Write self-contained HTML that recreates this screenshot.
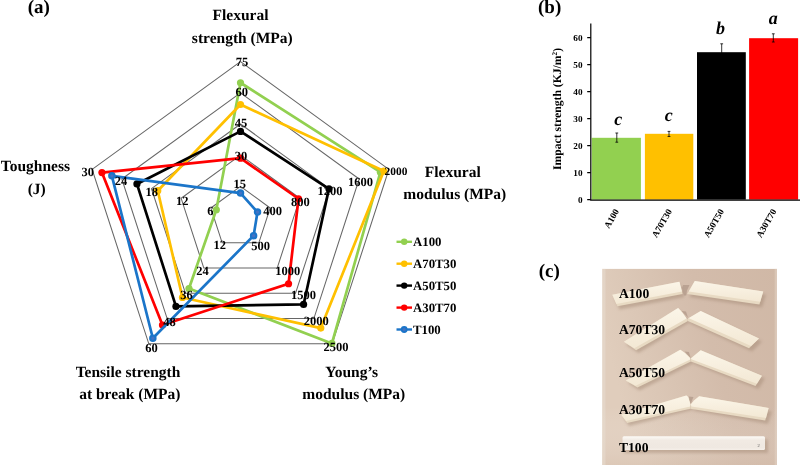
<!DOCTYPE html>
<html><head><meta charset="utf-8">
<style>
html,body{margin:0;padding:0;background:#fff;}
body{width:800px;height:465px;overflow:hidden;font-family:"Liberation Serif",serif;}
svg{display:block;will-change:transform}
text{font-family:"Liberation Serif",serif;font-weight:bold;fill:#000;text-rendering:geometricPrecision}
.tk{font-size:12px}
.ax{font-size:15.5px}
.pl{font-size:19px}
.lg{font-size:12.8px}
.bt{font-size:9.2px}
.ph{font-size:13.6px}
.sig{font-size:18px;font-style:italic}
</style></head><body>
<svg width="800" height="465" viewBox="0 0 800 465">
<defs>
<linearGradient id="bg" x1="1" y1="0" x2="0" y2="0.3">
<stop offset="0" stop-color="#d0b8a6"/><stop offset="0.45" stop-color="#d3bcab"/><stop offset="0.8" stop-color="#dbc7b6"/><stop offset="1" stop-color="#e0cdbc"/>
</linearGradient>
<linearGradient id="bg2" x1="0" y1="0" x2="0" y2="1">
<stop offset="0" stop-color="#ffffff" stop-opacity="0"/><stop offset="0.7" stop-color="#ffffff" stop-opacity="0.0"/><stop offset="1" stop-color="#d6bfae" stop-opacity="0.35"/>
</linearGradient>
<linearGradient id="pc" x1="0" y1="0" x2="0" y2="1">
<stop offset="0" stop-color="#fbf5e8"/><stop offset="1" stop-color="#f3e8d4"/>
</linearGradient>
<linearGradient id="tc" x1="0" y1="0" x2="0" y2="1">
<stop offset="0" stop-color="#fcfaf6"/><stop offset="0.3" stop-color="#f1eae3"/><stop offset="0.8" stop-color="#efe8e1"/><stop offset="1" stop-color="#f5efe9"/>
</linearGradient>
<filter id="bl" x="-10%" y="-10%" width="120%" height="120%"><feGaussianBlur stdDeviation="0.6"/></filter>
<filter id="sh" x="-10%" y="-30%" width="120%" height="160%"><feGaussianBlur stdDeviation="1.6"/></filter>
</defs>
<rect width="800" height="465" fill="#fff"/>
<!-- (a) radar -->
<text x="27.8" y="13.3" class="pl">(a)</text>
<polygon points="240.50,186.40 270.17,207.96 258.84,242.84 222.16,242.84 210.83,207.96" fill="none" stroke="#666" stroke-width="1.05"/>
<polygon points="240.50,155.20 299.85,198.32 277.18,268.08 203.82,268.08 181.15,198.32" fill="none" stroke="#666" stroke-width="1.05"/>
<polygon points="240.50,124.00 329.52,188.68 295.52,293.32 185.48,293.32 151.48,188.68" fill="none" stroke="#666" stroke-width="1.05"/>
<polygon points="240.50,92.80 359.19,179.03 313.86,318.57 167.14,318.57 121.81,179.03" fill="none" stroke="#666" stroke-width="1.05"/>
<polygon points="240.50,61.60 388.86,169.39 332.19,343.81 148.81,343.81 92.14,169.39" fill="none" stroke="#666" stroke-width="1.05"/>
<polygon points="240.50,82.75 380.41,172.14 331.92,343.43 188.97,288.53 216.32,209.74" fill="none" stroke="#92D050" stroke-width="2.7" stroke-linejoin="round"/>
<circle cx="240.50" cy="82.75" r="3.6" fill="#92D050"/>
<circle cx="380.41" cy="172.14" r="3.6" fill="#92D050"/>
<circle cx="331.92" cy="343.43" r="3.6" fill="#92D050"/>
<circle cx="188.97" cy="288.53" r="3.6" fill="#92D050"/>
<circle cx="216.32" cy="209.74" r="3.6" fill="#92D050"/>
<polygon points="240.50,104.50 383.82,171.03 320.79,328.11 182.46,297.49 157.77,190.72" fill="none" stroke="#FFC000" stroke-width="2.7" stroke-linejoin="round"/>
<circle cx="240.50" cy="104.50" r="3.6" fill="#FFC000"/>
<circle cx="383.82" cy="171.03" r="3.6" fill="#FFC000"/>
<circle cx="320.79" cy="328.11" r="3.6" fill="#FFC000"/>
<circle cx="182.46" cy="297.49" r="3.6" fill="#FFC000"/>
<circle cx="157.77" cy="190.72" r="3.6" fill="#FFC000"/>
<polygon points="240.50,131.39 328.93,188.87 303.59,304.43 175.95,306.45 136.94,183.95" fill="none" stroke="#000000" stroke-width="2.7" stroke-linejoin="round"/>
<circle cx="240.50" cy="131.39" r="3.6" fill="#000000"/>
<circle cx="328.93" cy="188.87" r="3.6" fill="#000000"/>
<circle cx="303.59" cy="304.43" r="3.6" fill="#000000"/>
<circle cx="175.95" cy="306.45" r="3.6" fill="#000000"/>
<circle cx="136.94" cy="183.95" r="3.6" fill="#000000"/>
<polygon points="240.50,158.16 298.51,198.75 288.55,283.73 162.47,325.00 101.93,172.57" fill="none" stroke="#FF0000" stroke-width="2.7" stroke-linejoin="round"/>
<circle cx="240.50" cy="158.16" r="3.6" fill="#FF0000"/>
<circle cx="298.51" cy="198.75" r="3.6" fill="#FF0000"/>
<circle cx="288.55" cy="283.73" r="3.6" fill="#FF0000"/>
<circle cx="162.47" cy="325.00" r="3.6" fill="#FF0000"/>
<circle cx="101.93" cy="172.57" r="3.6" fill="#FF0000"/>
<polygon points="240.50,193.11 257.50,212.08 253.61,235.65 152.84,338.25 111.87,175.80" fill="none" stroke="#1B75C9" stroke-width="2.7" stroke-linejoin="round"/>
<circle cx="240.50" cy="193.11" r="2.7" fill="#4472C4" stroke="#1B75C9" stroke-width="2.1"/>
<circle cx="257.50" cy="212.08" r="2.7" fill="#4472C4" stroke="#1B75C9" stroke-width="2.1"/>
<circle cx="253.61" cy="235.65" r="2.7" fill="#4472C4" stroke="#1B75C9" stroke-width="2.1"/>
<circle cx="152.84" cy="338.25" r="2.7" fill="#4472C4" stroke="#1B75C9" stroke-width="2.1"/>
<circle cx="111.87" cy="175.80" r="2.7" fill="#4472C4" stroke="#1B75C9" stroke-width="2.1"/>
<text x="242.00" y="66.30" text-anchor="middle" style="font-size:12.5px">75</text>
<text x="241.85" y="95.60" text-anchor="middle" style="font-size:12.5px">60</text>
<text x="241.10" y="126.90" text-anchor="middle" style="font-size:12.5px">45</text>
<text x="241.10" y="160.30" text-anchor="middle" style="font-size:12.5px">30</text>
<text x="239.68" y="187.80" text-anchor="middle" style="font-size:12.5px">15</text>
<text x="272.70" y="215.30" text-anchor="middle" style="font-size:12.5px">400</text>
<text x="300.38" y="205.95" text-anchor="middle" style="font-size:12.5px">800</text>
<text x="330.00" y="194.70" text-anchor="middle" style="font-size:12.5px">1200</text>
<text x="360.43" y="185.95" text-anchor="middle" style="font-size:12.5px">1600</text>
<text x="396.00" y="174.70" text-anchor="middle" style="font-size:11.4px">2000</text>
<text x="260.50" y="249.70" text-anchor="middle" style="font-size:12.5px">500</text>
<text x="287.68" y="275.30" text-anchor="middle" style="font-size:12.5px">1000</text>
<text x="303.43" y="299.10" text-anchor="middle" style="font-size:12.5px">1500</text>
<text x="316.25" y="324.70" text-anchor="middle" style="font-size:12.5px">2000</text>
<text x="335.93" y="351.30" text-anchor="middle" style="font-size:12.5px">2500</text>
<text x="219.68" y="249.30" text-anchor="middle" style="font-size:12.5px">12</text>
<text x="202.62" y="275.10" text-anchor="middle" style="font-size:12.5px">24</text>
<text x="186.38" y="298.70" text-anchor="middle" style="font-size:12.5px">36</text>
<text x="169.38" y="326.20" text-anchor="middle" style="font-size:12.5px">48</text>
<text x="151.40" y="352.20" text-anchor="middle" style="font-size:12.5px">60</text>
<text x="210.30" y="214.70" text-anchor="middle" style="font-size:12.5px">6</text>
<text x="182.30" y="205.30" text-anchor="middle" style="font-size:12.5px">12</text>
<text x="151.75" y="196.30" text-anchor="middle" style="font-size:12.5px">18</text>
<text x="120.95" y="185.30" text-anchor="middle" style="font-size:12.5px">24</text>
<text x="87.67" y="175.95" text-anchor="middle" style="font-size:12.5px">30</text>
<text x="240.5" y="19.8" text-anchor="middle" class="ax">Flexural</text>
<text x="242.3" y="42.6" text-anchor="middle" class="ax">strength (MPa)</text>
<text x="452.8" y="177.1" text-anchor="middle" class="ax">Flexural</text>
<text x="454.8" y="199.4" text-anchor="middle" class="ax">modulus (MPa)</text>
<text x="351.7" y="377.1" text-anchor="middle" class="ax">Young’s</text>
<text x="353.8" y="399.4" text-anchor="middle" class="ax">modulus (MPa)</text>
<text x="128" y="377.1" text-anchor="middle" class="ax">Tensile strength</text>
<text x="129.8" y="399.4" text-anchor="middle" class="ax">at break (MPa)</text>
<text x="35.4" y="171" text-anchor="middle" class="ax">Toughness</text>
<text x="36.7" y="193.8" text-anchor="middle" class="ax">(J)</text>
<!-- legend -->
<g>
<line x1="396.5" y1="241.8" x2="412" y2="241.8" stroke="#92D050" stroke-width="2.4"/><circle cx="404.2" cy="241.8" r="3.2" fill="#92D050"/>
<text x="413" y="245.8" class="lg">A100</text>
<line x1="396.5" y1="263.7" x2="412" y2="263.7" stroke="#FFC000" stroke-width="2.4"/><circle cx="404.2" cy="263.7" r="3.2" fill="#FFC000"/>
<text x="413" y="267.7" class="lg">A70T30</text>
<line x1="396.5" y1="285.6" x2="412" y2="285.6" stroke="#000" stroke-width="2.4"/><circle cx="404.2" cy="285.6" r="3.2" fill="#000"/>
<text x="413" y="289.6" class="lg">A50T50</text>
<line x1="396.5" y1="307.6" x2="412" y2="307.6" stroke="#FF0000" stroke-width="2.4"/><circle cx="404.2" cy="307.6" r="3.2" fill="#FF0000"/>
<text x="413" y="311.6" class="lg">A30T70</text>
<line x1="396.5" y1="329.5" x2="412" y2="329.5" stroke="#1B75C9" stroke-width="2.4"/><circle cx="404.2" cy="329.5" r="2.5" fill="#4472C4" stroke="#1B75C9" stroke-width="1.8"/>
<text x="413" y="333.5" class="lg">T100</text>
</g>
<!-- (b) bar chart -->
<text x="538" y="13.2" class="pl">(b)</text>
<rect x="591.7" y="137.8" width="49.2" height="61.8" fill="#92D050"/>
<rect x="644.9" y="133.8" width="48.4" height="65.8" fill="#FFC000"/>
<rect x="697" y="52.2" width="48.8" height="147.4" fill="#000"/>
<rect x="749.1" y="38.2" width="49" height="161.4" fill="#FF0000"/>
<g stroke="#000" stroke-width="0.8" fill="none">
<path d="M616.8 133 V142.2 M615.4 133 H618.2 M615.4 142.2 H618.2"/>
<path d="M669 131.4 V136.5 M667.6 131.4 H670.4 M667.6 136.5 H670.4"/>
<path d="M721.7 43.8 V60 M720.3 43.8 H723.1"/>
<path d="M773.3 33.8 V42 M771.9 33.8 H774.7 M771.9 42 H774.7"/>
</g>
<g stroke="#000" stroke-width="1.2" fill="none">
<path d="M590.8 23.5 V200.2 H800"/>
<path d="M587.2 37.6 H590.8 M587.2 64.6 H590.8 M587.2 91.6 H590.8 M587.2 118.6 H590.8 M587.2 145.6 H590.8 M587.2 172.6 H590.8 M587.2 199.6 H590.8"/>
</g>
<g text-anchor="end">
<text x="582.5" y="40.6" class="bt">60</text>
<text x="582.5" y="67.6" class="bt">50</text>
<text x="582.5" y="94.6" class="bt">40</text>
<text x="582.5" y="121.6" class="bt">30</text>
<text x="582.5" y="148.6" class="bt">20</text>
<text x="582.5" y="175.6" class="bt">10</text>
<text x="582.5" y="202.6" class="bt">0</text>
</g>
<text transform="translate(561.2,109) rotate(-90)" text-anchor="middle" style="font-size:11.7px">Impact strength (KJ/m<tspan dy="-4" style="font-size:7.2px">2</tspan><tspan dy="4">)</tspan></text>
<text x="618.3" y="124.7" text-anchor="middle" class="sig">c</text>
<text x="668.8" y="121" text-anchor="middle" class="sig">c</text>
<text x="720.6" y="33.5" text-anchor="middle" class="sig">b</text>
<text x="773.2" y="24.3" text-anchor="middle" class="sig">a</text>
<g text-anchor="end">
<text transform="translate(619.3,211.3) rotate(-60)" class="bt">A100</text>
<text transform="translate(672.3,211.3) rotate(-60)" class="bt">A70T30</text>
<text transform="translate(724.3,211.3) rotate(-60)" class="bt">A50T50</text>
<text transform="translate(776.8,211.3) rotate(-60)" class="bt">A30T70</text>
</g>
<!-- (c) photo -->
<text x="538.8" y="277" class="pl">(c)</text>
<g>
<rect x="602.3" y="268.9" width="174.6" height="196.5" fill="url(#bg)"/>
<rect x="602.3" y="268.9" width="174.6" height="196.5" fill="url(#bg2)"/>
<rect x="602.3" y="268.9" width="3.2" height="196.5" fill="#e8dccf" opacity="0.55"/>
<rect x="774.6" y="268.9" width="2.3" height="196.5" fill="#e3d3c5" opacity="0.5"/>
<g filter="url(#sh)" fill="#a48a76" opacity="0.5">
<polygon points="614.5,297.5 681,285 684.6,297 619.5,309.5"/>
<polygon points="697,284 766,294.5 762,307.5 689,297"/>
<polygon points="626,344.5 680,311 690,322 638.5,353"/>
<polygon points="702,313 762,341.5 752,351.5 689,323"/>
<polygon points="628,383 686,353.5 695,362.5 639.5,390.5"/>
<polygon points="701.5,353 765,378.5 758.5,389 693.5,364"/>
<polygon points="623.5,417.5 690,399 693.5,409.5 629,426"/>
<polygon points="701.5,399.5 772,411.5 768,424 693,410.5"/>
<rect x="624.5" y="439.5" width="143.5" height="13.5"/>
</g>
<g filter="url(#bl)">
<!-- A100 -->
<polygon points="612.3,294.7 679.4,281.8 682.6,294 617.4,306.3" fill="#e8dac3"/>
<polygon points="612.3,294.7 679.4,281.8 682,291.6 616.4,304" fill="url(#pc)"/>
<polygon points="694.8,281.1 763.2,291.5 759.4,304.4 687.1,294" fill="#e8dac3"/>
<polygon points="694.8,281.1 763.2,291.5 760.2,301.8 688.8,291.6" fill="url(#pc)"/>
<!-- A70T30 -->
<polygon points="623.9,341.8 678.1,307.9 682,312 687.1,319.2 687.9,321.1 636.1,350.2" fill="#e8dac3"/>
<polygon points="623.9,341.8 678.1,307.9 682,312 686.6,318.6 634.3,348.2" fill="url(#pc)"/>
<polygon points="700.7,310.9 759,338.5 749,348.2 687.9,321.1 687.1,319.2" fill="#e8dac3"/>
<polygon points="700.7,310.9 759,338.5 751,346 689.5,318.6 688,318.4" fill="url(#pc)"/>
<!-- A50T50 -->
<polygon points="625.8,380.5 680.3,349.8 685,353 690.1,358.1 690.9,361.5 637.4,387.6" fill="#e8dac3"/>
<polygon points="625.8,380.5 680.3,349.8 685,353 690.1,358.1 690.3,359.4 635.6,385.8" fill="url(#pc)"/>
<polygon points="700.7,350.2 761.9,375.7 755.5,386 690.9,361.5 690.5,358.5" fill="#e8dac3"/>
<polygon points="700.7,350.2 761.9,375.7 756.9,383.8 692,359.4 690.8,358.4" fill="url(#pc)"/>
<!-- A30T70 -->
<polygon points="621.3,414.7 686.4,395.5 688.2,397 690.5,404.6 690.3,408.7 627.1,423.1" fill="#e8dac3"/>
<polygon points="621.3,414.7 686.4,395.5 688.2,397 690.5,404.6 690.2,406.4 626,420.9" fill="url(#pc)"/>
<polygon points="699.2,396.3 768.6,407.9 765.2,420.6 690.3,408.7 690.5,404.6 694,400.5" fill="#e8dac3"/>
<polygon points="699.2,396.3 768.6,407.9 766,418 691.5,406.4 690.7,404.6 694,400.5" fill="url(#pc)"/>
<!-- T100 -->
<rect x="622.5" y="436.3" width="142.5" height="13.8" rx="1.5" fill="url(#tc)"/>
</g>
<g filter="url(#bl)" fill="#b49c8c" opacity="0.8"><polygon points="683,285 689.5,285 687,290.5 686.3,295.5 683.8,295.5 682,288"/><polygon points="681.5,311 686,311.5 688,317.5"/><polygon points="684.5,351.5 689,352 690.4,357.5"/><polygon points="688.6,396.5 693.5,397 690.7,403.5"/></g>
<text x="619" y="297.5" class="ph">A100</text>
<text x="619" y="334.4" class="ph">A70T30</text>
<text x="619" y="377" class="ph">A50T50</text>
<text x="619" y="414.4" class="ph">A30T70</text>
<text x="619" y="451.9" class="ph">T100</text>
<text x="757.5" y="447" style="font-size:4.5px;font-weight:normal;fill:#555">2</text>
</g>

</svg>
</body></html>
